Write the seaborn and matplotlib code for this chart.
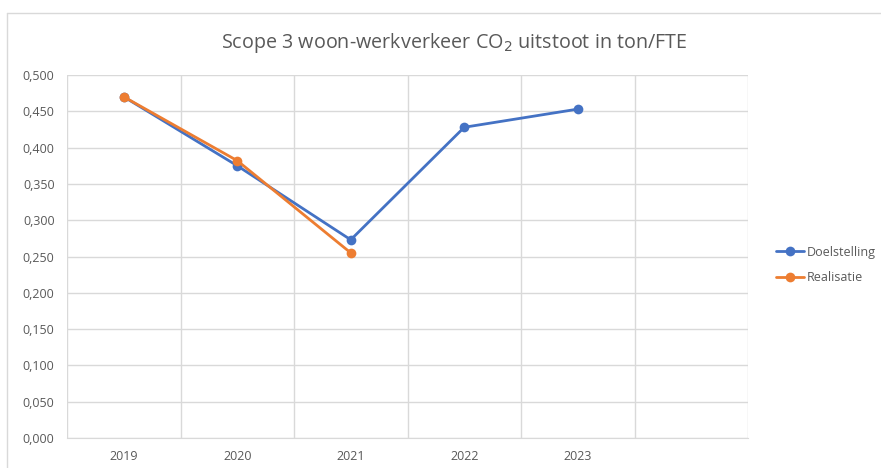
import numpy as np
import pandas as pd
import matplotlib.pyplot as plt
import seaborn as sns
from matplotlib.lines import Line2D
from matplotlib.ticker import FuncFormatter

# Data
years = ['2019', '2020', '2021', '2022', '2023']
doelstelling = [0.470, 0.375, 0.273, 0.428, 0.453]
realisatie = [0.470, 0.382, 0.255]

df = pd.concat([
    pd.DataFrame({'pos': range(len(doelstelling)), 'waarde': doelstelling, 'reeks': 'Doelstelling'}),
    pd.DataFrame({'pos': range(len(realisatie)), 'waarde': realisatie, 'reeks': 'Realisatie'}),
])

sns.set_style('white')
plt.rcParams['font.family'] = ['Open Sans', 'DejaVu Sans']

blue = '#4472C4'
orange = '#ED7D31'
grid = '#D9D9D9'
txt = '#595959'

fig = plt.figure(figsize=(8.81, 4.68), dpi=100)
ax = fig.add_axes([67 / 881, 1 - 438 / 468, (748 - 67) / 881, (438 - 75) / 468])

sns.lineplot(data=df, x='pos', y='waarde', hue='reeks', palette={'Doelstelling': blue, 'Realisatie': orange},
             marker='o', markersize=7, markeredgewidth=0, linewidth=2, ax=ax, legend=False)

ax.set_xlim(-0.5, 5.5)
ax.set_ylim(0, 0.5)
ax.set_yticks(np.arange(0, 0.501, 0.05))
ax.yaxis.set_major_formatter(FuncFormatter(lambda v, p: f'{v:.3f}'.replace('.', ',')))
ax.set_xticks(range(len(years)))
ax.set_xticklabels(years)
ax.set_xticks(np.arange(-0.5, 5.6, 1), minor=True)
ax.grid(True, axis='y', color=grid, linewidth=1)
ax.grid(True, axis='x', which='minor', color=grid, linewidth=1)
ax.grid(False, axis='x', which='major')
ax.set_axisbelow(True)
ax.tick_params(axis='both', which='both', length=0, labelsize=9, colors=txt, pad=9)
ax.set_xlabel('')
ax.set_ylabel('')
for s in ax.spines.values():
    s.set_visible(False)
ax.spines['bottom'].set_visible(True)
ax.spines['bottom'].set_color(grid)

fig.text(454 / 881, 1 - 43 / 468, 'Scope 3 woon-werkverkeer CO$_2$ uitstoot in ton/FTE',
         ha='center', va='center', fontsize=14.2, color=txt)

# outer chart border
fig.add_artist(Line2D([7 / 881, 7 / 881], [0, 1 - 13 / 468], transform=fig.transFigure, color=grid, linewidth=1))
fig.add_artist(Line2D([7 / 881, 1], [1 - 13 / 468, 1 - 13 / 468], transform=fig.transFigure, color=grid, linewidth=1))

handles = [Line2D([], [], color=blue, marker='o', markersize=7, markeredgewidth=0, linewidth=2),
           Line2D([], [], color=orange, marker='o', markersize=7, markeredgewidth=0, linewidth=2)]
fig.legend(handles, ['Doelstelling', 'Realisatie'], loc='center left', bbox_to_anchor=(765 / 881, 1 - 265 / 468),
           frameon=False, fontsize=9, labelcolor=txt, handlelength=2.2, handletextpad=0.2, labelspacing=1.0)

fig.savefig('out.png', dpi=100)
